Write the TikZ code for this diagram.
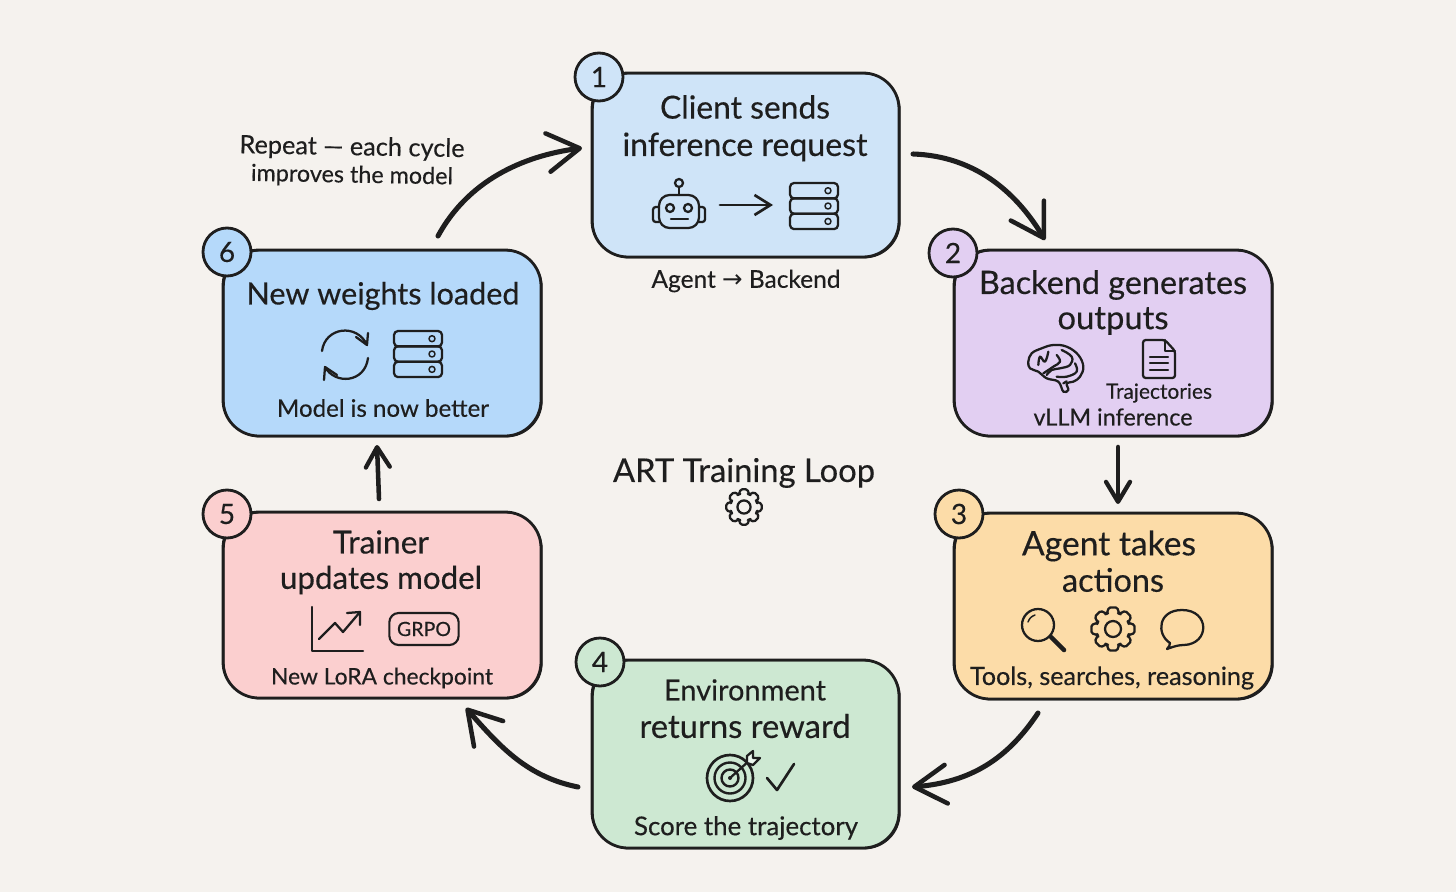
\documentclass[tikz,border=0pt]{standalone}
\usepackage{fontspec}
\usepackage{graphicx}
\setmainfont{Lato}[FakeBold=0.35]
\newfontfamily\arrowfont{DejaVu Sans}
\usetikzlibrary{arrows.meta}
\definecolor{ink}{HTML}{1E1E1E}
\definecolor{paper}{HTML}{F5F2EE}
\definecolor{cOne}{HTML}{CFE4F8}
\definecolor{cTwo}{HTML}{E2CFF2}
\definecolor{cThree}{HTML}{FCDCA8}
\definecolor{cFour}{HTML}{CDE8D2}
\definecolor{cFive}{HTML}{FBCFCF}
\definecolor{cSix}{HTML}{B5D9FA}
\newcommand\fw[2]{\resizebox{\dimexpr#1pt*3/4\relax}{!}{#2}}
\tikzset{
  x=0.75pt,y=-0.75pt,
  every node/.style={text=ink,inner sep=0pt,outer sep=0pt},
  cardbox/.style={draw=ink,line width=2.1pt,rounded corners=27pt,fill=#1,
    postaction={draw=ink,line width=.7pt,transform canvas={shift={(.9pt,-.7pt)}}}},
  badge/.style={circle,draw=ink,line width=2.1pt,fill=#1,minimum size=36pt,font=\fontsize{21}{21}\selectfont},
  flow/.style={draw=ink,line width=3.8pt,line cap=round,-{Straight Barb[length=24pt,width=29pt,line width=3.4pt,round]}},
  shortflow/.style={draw=ink,line width=3.4pt,line cap=round,-{Straight Barb[length=15pt,width=18pt,line width=3.2pt,round]}},
  icon/.style={draw=ink,line width=1.7pt,line cap=round,line join=round},
  server/.pic={
    \foreach \yy in {-23,-7.7,7.7}{
      \draw[icon,rounded corners=3pt] (-24,\yy) rectangle (24,\yy+15.4);
      \draw[icon,line width=1.1pt] (14,\yy+7.7) circle (3);
    }
  },
  gear/.pic={
    \draw[icon,rounded corners=1.2pt]
      (-22:16.5)
      \foreach \a in {0,45,...,315}{
        -- ({\a-22}:16.5) -- ({\a-11}:22) -- ({\a+11}:22) -- ({\a+22}:16.5)
      } -- cycle;
    \draw[icon] (0,0) circle (8);
  },
  robot/.pic={
    \draw[icon,rounded corners=8pt] (-20,-15) rectangle (20,18);
    \draw[icon,rounded corners=2pt] (-20,-3) -- (-26,-3) -- (-26,12) -- (-20,12);
    \draw[icon,rounded corners=2pt] (20,-3) -- (26,-3) -- (26,12) -- (20,12);
    \draw[icon] (0,-15) -- (0,-23);
    \draw[icon] (0,-27) circle (4);
    \draw[icon] (-9,-2) circle (4);
    \draw[icon] (9,-2) circle (4);
    \draw[icon] (-8,9) -- (9,9);
  },
  brain/.pic={
    \begin{scope}[scale=1/3]
    \draw[icon] plot[smooth cycle,tension=.65] coordinates {(-80,-19) (-70,-44) (-40,-59) (-5,-69) (35,-64) (70,-39) (85,-4) (75,26) (55,41) (35,46) (40,66) (25,71) (10,41) (-25,31) (-50,11) (-75,1)};
    \draw[icon] plot[smooth,tension=.7] coordinates {(-50,-9) (-45,-34) (-30,-19) (-20,-49)};
    \draw[icon] plot[smooth,tension=.7] coordinates {(5,-39) (15,-19) (-5,-4) (-35,16)};
    \draw[icon] plot[smooth,tension=.7] coordinates {(20,-54) (50,-34) (45,-9) (15,1) (-10,6) (-25,21)};
    \draw[icon] plot[smooth,tension=.7] coordinates {(60,-14) (65,11) (35,26) (5,26)};
    \draw[icon] (25,46) -- (35,40);
    \end{scope}
  },
  docicon/.pic={
    \draw[icon,rounded corners=2pt] (-16,-19) -- (6,-19) -- (16,-8) -- (16,19) -- (-16,19) -- cycle;
    \draw[icon] (6,-19) -- (6,-8) -- (16,-8);
    \draw[icon] (-9,-2) -- (9,-2) (-9,4) -- (9,4) (-9,11) -- (9,11);
  },
  lens/.pic={
    \draw[icon] (0,0) circle (16);
    \draw[icon,line width=1.1pt] (-10,-3) to[bend left=25] (-3,-10);
    \draw[icon,line width=3.4pt] (13,12) -- (26,25);
  },
  bubble/.pic={
    \draw[icon] (-12,15) .. controls (-26,6) and (-24,-18) .. (0,-18) .. controls (28,-18) and (28,16) .. (2,17) .. controls (-3,17) and (-7,18) .. (-15,21) .. controls (-13,19) and (-12,17) .. (-12,15) -- cycle;
  },
  target/.pic={
    \draw[icon,line width=2pt] (0,0) circle (23);
    \draw[icon,line width=1.8pt] (0,0) circle (15.5);
    \draw[icon,line width=1.8pt] (0,0) circle (8.5);
    \fill[ink] (0,0) circle (2);
    \draw[icon] (0,0) -- (20,-18);
    \draw[icon,fill=white!60!cFour] (17,-22) -- (23,-27) -- (23,-20) -- (30,-20) -- (23,-13) -- (17,-15) -- cycle;
  },
  chart/.pic={
    \draw[icon] (0,-44) -- (0,0) -- (51,0);
    \draw[icon] (7,-12) -- (23,-28) -- (31,-19) -- (48,-39);
    \draw[icon] (35,-38) -- (48,-39) -- (48,-26);
  },
  refresh/.pic={
    \draw[icon] (-23,-4) .. controls (-20,-28) and (12,-32) .. (22,-10);
    \draw[icon] (11,-18) -- (22,-10) -- (23,-22);
    \draw[icon] (23,3) .. controls (20,28) and (-10,30) .. (-20,12);
    \draw[icon] (-21,25) -- (-20,12) -- (-8,20);
  }
}
\begin{document}
\begin{tikzpicture}
\fill[paper] (0,0) rectangle (1456,892);
\useasboundingbox (0,0) rectangle (1456,892);

% cards
\node[cardbox=cOne,minimum width=230.25pt,minimum height=138pt] (n1) at (745.5,165) {};
\node[cardbox=cTwo,minimum width=238.5pt,minimum height=139.5pt] (n2) at (1113,343) {};
\node[cardbox=cThree,minimum width=238.5pt,minimum height=139.5pt] (n3) at (1113,606) {};
\node[cardbox=cFour,minimum width=230.25pt,minimum height=141pt] (n4) at (745.5,754) {};
\node[cardbox=cFive,minimum width=238.5pt,minimum height=139.5pt] (n5) at (382,605) {};
\node[cardbox=cSix,minimum width=238.5pt,minimum height=139.5pt] (n6) at (382,343) {};

% badges
\node[badge=cOne] (b1) at (599,77) {1};
\node[badge=cTwo] (b2) at (953,253) {2};
\node[badge=cThree] (b3) at (959,514) {3};
\node[badge=cFour] (b4) at (600,662) {4};
\node[badge=cFive] (b5) at (227,514) {5};
\node[badge=cSix] (b6) at (227,252) {6};

% connectors
\draw[flow] ([shift={(14,-11)}]n1.east) .. controls +(60,2) and +(-30,-50) .. ([shift={(-68,-10)}]n2.north);
\draw[shortflow] ([shift={(5,11)}]n2.south) -- ([shift={(5,-9)}]n3.north);
\draw[flow] ([shift={(-75,14)}]n3.south) .. controls +(-30,45) and +(60,-5) .. ([shift={(13,33)}]n4.east);
\draw[flow] ([shift={(-14,33)}]n4.west) .. controls +(-50,-10) and +(35,40) .. ([shift={(84,10)}]n5.south);
\draw[shortflow] ([shift={(-3,-13)}]n5.north) -- ([shift={(-5,9)}]n6.south);
\draw[flow] ([shift={(56,-14)}]n6.north) .. controls +(30,-55) and +(-60,8) .. ([shift={(-10,-17)}]n1.west);

% card 1
\node (t1a) at (745,107) {\fw{170}{Client sends}};
\node (t1b) at (745,147) {\fw{245}{inference request}};
\pic at (679,210) {robot};
\coordinate (ra) at (720,205);
\coordinate (rb) at (773,205);
\draw[icon,line width=2.2pt,-{Straight Barb[length=12pt,width=15pt,line width=2pt]}] (ra) -- (rb);
\pic at (814,206) {server};
\node (t1c) at (746,281) {\fw{189}{Agent {\arrowfont→} Backend}};

% repeat note
\node[rotate=-1] (r1) at (352,148) {\fw{225}{Repeat — each cycle}};
\node[rotate=-1] (r2) at (352,176) {\fw{202}{improves the model}};

% card 2
\node (t2a) at (1113,285) {\fw{268}{Backend generates}};
\node (t2b) at (1113,321) {\fw{111}{outputs}};
\pic at (1055,368) {brain};
\pic at (1159,359) {docicon};
\node (t2c) at (1159,393) {\fw{106}{Trajectories}};
\node (t2d) at (1113,417) {\fw{159}{vLLM inference}};

% card 3
\node (t3a) at (1109,546) {\fw{174}{Agent takes}};
\node (t3b) at (1113,580) {\fw{102}{actions}};
\pic at (1038,625) {lens};
\pic at (1113,629) {gear};
\pic at (1182,628) {bubble};
\node (t3c) at (1112,678) {\fw{284}{Tools, searches, reasoning}};

% card 4
\node (t4a) at (745,690) {\fw{162}{Environment}};
\node (t4b) at (745,726) {\fw{211}{returns reward}};
\pic at (730,778) {target};
\draw[icon,line width=2pt] (767,778) -- (777,790) -- (794,764);
\node (t4c) at (746,828) {\fw{224}{Score the trajectory}};

% card 5
\node (t5a) at (381,542) {\fw{96}{Trainer}};
\node (t5b) at (381,580) {\fw{202}{updates model}};
\pic at (312,651) {chart};
\node[draw=ink,line width=1.6pt,rounded corners=7pt,minimum width=52pt,minimum height=24pt] (g5) at (424,629) {\fw{54}{GRPO}};
\node (t5c) at (382,678) {\fw{222}{New LoRA checkpoint}};

% card 6
\node (t6a) at (383,296) {\fw{273}{New weights loaded}};
\pic at (345,355) {refresh};
\pic at (418,354) {server};
\node (t6c) at (383,408) {\fw{212}{Model is now better}};

% centre
\node (c1) at (744,473) {\fw{262}{ART Training Loop}};
\pic[scale=.82] at (744,507) {gear};
\end{tikzpicture}
\end{document}
